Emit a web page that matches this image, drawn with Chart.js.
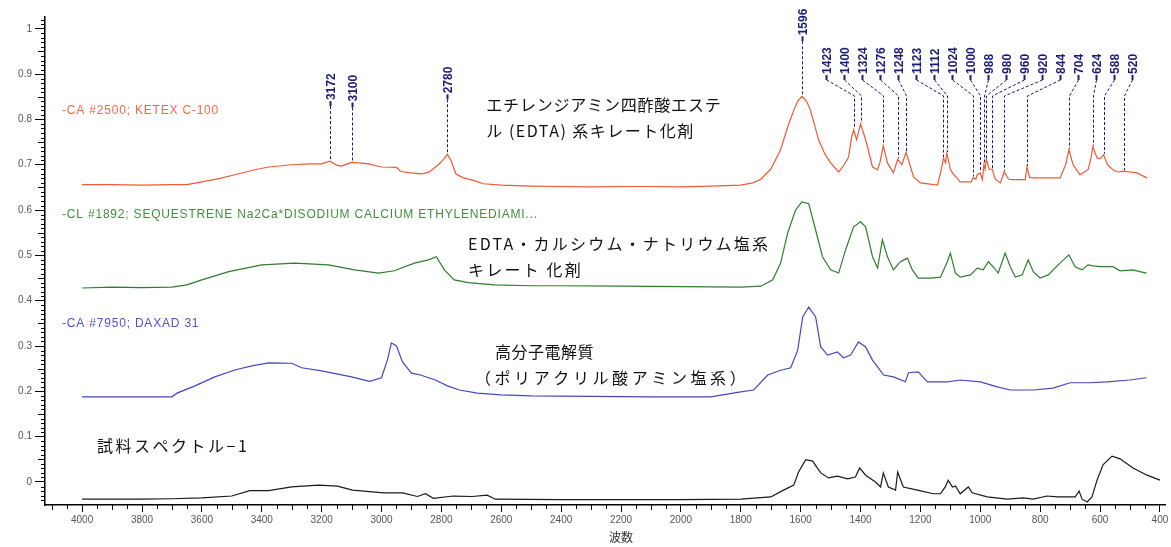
<!DOCTYPE html>
<html>
<head>
<meta charset="utf-8">
<script src="https://cdn.jsdelivr.net/npm/chart.js@4/dist/chart.umd.min.js"></script>
<style>
  html, body { margin: 0; padding: 0; background: #fff; }
  canvas { display: block; }
</style>
</head>
<body>
<canvas id="ir" width="1171" height="547"></canvas>
<script>
// ---- IR spectra: wavenumber (cm-1) and absorbance ----
const redWn  = [4000,3900,3800,3700,3650,3600,3540,3490,3423,3377,3300,3240,3200,3172,3150,3135,3100,3077,3043,3000,2950,2935,2900,2867,2843,2810,2795,2780,2768,2752,2727,2690,2660,2600,2500,2400,2300,2200,2100,2000,1900,1800,1760,1733,1700,1667,1640,1623,1610,1596,1580,1567,1540,1520,1500,1473,1455,1440,1430,1423,1413,1400,1390,1380,1360,1343,1335,1324,1310,1290,1276,1262,1248,1235,1223,1200,1143,1130,1123,1116,1112,1100,1093,1067,1030,1024,1015,1010,1000,993,988,984,980,970,960,950,933,920,905,890,850,844,835,823,780,733,715,704,690,667,640,630,624,610,600,588,575,557,540,520,500,477,443];
const redAbs = [0.656,0.656,0.655,0.656,0.656,0.662,0.670,0.678,0.689,0.695,0.700,0.702,0.702,0.708,0.699,0.697,0.705,0.704,0.702,0.695,0.694,0.685,0.682,0.680,0.683,0.700,0.710,0.723,0.710,0.680,0.671,0.665,0.658,0.655,0.653,0.652,0.651,0.652,0.652,0.651,0.653,0.655,0.660,0.668,0.690,0.733,0.790,0.820,0.840,0.851,0.840,0.820,0.755,0.725,0.704,0.684,0.700,0.717,0.760,0.777,0.755,0.790,0.770,0.748,0.695,0.689,0.705,0.742,0.704,0.682,0.712,0.700,0.727,0.700,0.673,0.660,0.655,0.690,0.715,0.705,0.726,0.690,0.682,0.662,0.662,0.672,0.668,0.678,0.682,0.667,0.700,0.690,0.712,0.690,0.690,0.668,0.660,0.684,0.668,0.667,0.667,0.695,0.672,0.671,0.671,0.671,0.700,0.733,0.700,0.678,0.689,0.715,0.740,0.715,0.713,0.722,0.700,0.689,0.684,0.686,0.684,0.682,0.671];

const greenWn  = [4000,3900,3800,3700,3650,3600,3510,3400,3290,3177,3090,3010,2957,2890,2843,2817,2790,2757,2710,2623,2500,2400,2200,2000,1800,1733,1693,1667,1643,1617,1596,1573,1550,1527,1500,1473,1450,1423,1400,1383,1360,1343,1327,1310,1290,1267,1243,1227,1207,1167,1133,1110,1100,1083,1067,1033,1010,990,973,957,940,917,900,883,860,840,823,800,773,740,704,683,660,640,623,600,557,533,490,467,445];
const greenAbs = [0.428,0.430,0.429,0.430,0.435,0.446,0.464,0.479,0.483,0.479,0.468,0.461,0.466,0.483,0.490,0.497,0.468,0.446,0.440,0.435,0.433,0.433,0.432,0.431,0.430,0.432,0.446,0.483,0.550,0.600,0.618,0.614,0.556,0.497,0.468,0.461,0.512,0.563,0.574,0.563,0.497,0.472,0.534,0.497,0.468,0.486,0.494,0.468,0.450,0.450,0.452,0.486,0.505,0.461,0.452,0.457,0.472,0.468,0.486,0.475,0.461,0.505,0.475,0.452,0.457,0.490,0.464,0.450,0.457,0.479,0.501,0.475,0.468,0.479,0.477,0.475,0.475,0.466,0.468,0.464,0.461];

const blueWn  = [4000,3850,3700,3683,3623,3557,3490,3433,3377,3300,3267,3200,3100,3040,3000,2980,2967,2950,2930,2900,2870,2820,2780,2740,2680,2600,2500,2300,2100,1900,1800,1757,1710,1670,1633,1610,1593,1573,1550,1533,1510,1477,1457,1433,1407,1383,1360,1343,1323,1290,1250,1240,1207,1177,1110,1067,1000,943,900,823,757,700,633,577,500,445];
const blueAbs = [0.188,0.188,0.188,0.196,0.212,0.232,0.247,0.256,0.263,0.262,0.252,0.245,0.232,0.222,0.230,0.270,0.307,0.300,0.265,0.240,0.236,0.225,0.212,0.203,0.196,0.192,0.190,0.189,0.188,0.188,0.199,0.203,0.236,0.246,0.252,0.291,0.364,0.386,0.364,0.298,0.280,0.287,0.274,0.280,0.309,0.298,0.269,0.254,0.236,0.232,0.221,0.241,0.243,0.221,0.221,0.225,0.221,0.210,0.203,0.203,0.207,0.219,0.219,0.221,0.225,0.230];

const blackWn  = [4000,3800,3700,3600,3500,3440,3377,3300,3210,3147,3097,2993,2930,2880,2853,2827,2760,2697,2647,2620,2400,2000,1800,1700,1657,1623,1607,1583,1560,1533,1507,1477,1443,1417,1403,1383,1350,1333,1324,1307,1283,1276,1257,1210,1157,1133,1117,1107,1093,1083,1067,1040,1027,977,910,857,823,777,743,683,670,660,643,627,610,590,560,533,490,443,400];
const blackAbs = [-0.038,-0.038,-0.037,-0.035,-0.031,-0.019,-0.019,-0.011,-0.007,-0.009,-0.018,-0.024,-0.024,-0.032,-0.026,-0.036,-0.031,-0.032,-0.029,-0.038,-0.039,-0.039,-0.038,-0.033,-0.018,-0.007,0.022,0.049,0.046,0.020,0.009,0.013,0.007,0.011,0.031,0.015,0.000,-0.011,0.020,-0.011,-0.018,0.022,-0.011,-0.018,-0.026,-0.026,-0.011,0.004,-0.011,-0.009,-0.026,-0.011,-0.024,-0.033,-0.038,-0.035,-0.038,-0.031,-0.033,-0.033,-0.020,-0.038,-0.044,-0.033,0.004,0.038,0.057,0.051,0.031,0.015,0.004];

// peak positions picked on the top spectrum
const peakWn = [3172,3100,2780,1596,1423,1400,1324,1276,1248,1123,1112,1024,1000,988,980,960,920,844,704,624,588,520];

// axis ticks and labels
const xMajorTicks = [4000,3800,3600,3400,3200,3000,2800,2600,2400,2200,2000,1800,1600,1400,1200,1000,800,600,400];
const yMajorTicks = [0,0.1,0.2,0.3,0.4,0.5,0.6,0.7,0.8,0.9,1];

const seriesNames = [
  '-CA #2500; KETEX C-100',
  '-CL #1892; SEQUESTRENE Na2Ca*DISODIUM CALCIUM ETHYLENEDIAMI...',
  '-CA #7950; DAXAD 31'
];
const xTitle = '波数';

const noteTexts = [
  'エチレンジアミン四酢酸エステ',
  'ル (EDTA) 系キレート化剤',
  'EDTA・カルシウム・ナトリウム塩系',
  'キレート 化剤',
  '高分子電解質',
  '（ポリアクリル酸アミン塩系）',
  '試料スペクトル−1'
];

// ---- layout and styling ----
const seriesColors = ['#ee5a36', '#2f7d2f', '#4646c4', '#1a1a1a'];
const seriesTextColors = ['#f06a48', '#3f8f3f', '#5050cc'];
const nameAnchorY = [0.82, 0.59, 0.35];          // absorbance level of each series name
const nameAnchorX = 4067;                          // wavenumber where names start
// anchor (wavenumber, absorbance) and letter spacing for each note line
const noteLayout = [
  { x: 2650, y: 0.832, ls: 0.8 },
  { x: 2650, y: 0.775, ls: 1.5 },
  { x: 2711, y: 0.525, ls: 2.2 },
  { x: 2711, y: 0.468, ls: 2.2 },
  { x: 2621, y: 0.288, ls: 0.5 },
  { x: 2688, y: 0.230, ls: 3.6 },
  { x: 3950, y: 0.080, ls: 2.5 }
];

function pairs(xs, ys) { return xs.map((x, i) => ({ x: x, y: ys[i] })); }
function absAt(xs, ys, wn) {
  for (let i = 0; i < xs.length - 1; i++) {
    const a = xs[i], b = xs[i + 1];
    if (wn <= a && wn >= b) {
      const t = (a === b) ? 0 : (a - wn) / (a - b);
      return ys[i] + t * (ys[i + 1] - ys[i]);
    }
  }
  return ys[ys.length - 1];
}

const FONT = '"Liberation Sans", Arial, sans-serif';
const JFONT = '"Noto Sans CJK JP", "Noto Sans", sans-serif';

// minor ticks on both axes
const minorTicks = {
  id: 'minorTicks',
  afterDraw(chart) {
    const ctx = chart.ctx, xs = chart.scales.x, ys = chart.scales.y;
    const axisY = chart.chartArea.bottom, axisX = chart.chartArea.left;
    ctx.save();
    ctx.strokeStyle = '#000';
    ctx.lineWidth = 1;
    for (let v = 400; v <= 4100; v += 50) {
      if (v % 200 === 0 && v <= 4000) continue;
      const p = Math.round(xs.getPixelForValue(v)) + 0.5;
      if (p < chart.chartArea.left || p > chart.chartArea.right) continue;
      const len = (v % 100 === 0) ? 5 : 4;
      ctx.beginPath(); ctx.moveTo(p, axisY); ctx.lineTo(p, axisY + len); ctx.stroke();
    }
    for (let k = -4; k <= 102; k++) {
      if (k % 10 === 0) continue;
      const p = Math.round(ys.getPixelForValue(k / 100)) + 0.5;
      if (p < chart.chartArea.top || p > chart.chartArea.bottom) continue;
      const len = (k % 5 === 0) ? 7 : 4;
      ctx.beginPath(); ctx.moveTo(axisX, p); ctx.lineTo(axisX - len, p); ctx.stroke();
    }
    ctx.restore();
  }
};

// series names, notes, peak labels, axis title
const annotate = {
  id: 'annotate',
  afterDatasetsDraw(chart) {
    const ctx = chart.ctx, xs = chart.scales.x, ys = chart.scales.y;
    ctx.save();

    // series names
    ctx.font = '12px ' + FONT;
    ctx.letterSpacing = '0.8px';
    ctx.textBaseline = 'middle';
    ctx.textAlign = 'left';
    for (let i = 0; i < seriesNames.length; i++) {
      ctx.fillStyle = seriesTextColors[i];
      ctx.fillText(seriesNames[i], xs.getPixelForValue(nameAnchorX), ys.getPixelForValue(nameAnchorY[i]));
    }

    // notes
    ctx.fillStyle = '#111';
    ctx.font = '16px ' + JFONT;
    noteTexts.forEach((t, i) => {
      const L = noteLayout[i];
      ctx.letterSpacing = L.ls + 'px';
      ctx.fillText(t, xs.getPixelForValue(L.x), ys.getPixelForValue(L.y));
    });
    ctx.letterSpacing = '0px';

    // peak labels, spread apart where they would collide
    const items = peakWn.map(wn => ({
      wn: wn,
      px: xs.getPixelForValue(wn),
      py: ys.getPixelForValue(absAt(redWn, redAbs, wn))
    })).sort((a, b) => a.px - b.px);
    const gap = 18;
    const groups = items.map(it => ({ members: [it] }));
    const place = g => {
      const c = g.members.reduce((s, m) => s + m.px, 0) / g.members.length;
      g.left = c - (g.members.length - 1) / 2 * gap;
      g.right = c + (g.members.length - 1) / 2 * gap;
    };
    groups.forEach(place);
    let merged = true;
    while (merged) {
      merged = false;
      for (let i = 0; i < groups.length - 1; i++) {
        if (groups[i + 1].left - groups[i].right < gap) {
          groups[i].members = groups[i].members.concat(groups[i + 1].members);
          groups.splice(i + 1, 1);
          place(groups[i]);
          merged = true;
          break;
        }
      }
    }
    ctx.font = 'bold 12px ' + FONT;
    ctx.fillStyle = '#1b1b78';
    ctx.strokeStyle = '#1b1b78';
    groups.forEach(g => {
      const single = g.members.length === 1;
      const minPy = Math.min.apply(null, g.members.map(m => m.py));
      const base = single ? g.members[0].py - 57 : minPy - 46;
      g.members.forEach((m, j) => {
        const lx = Math.round(g.left + j * gap) + 0.5;
        const px = Math.round(m.px) + 0.5;
        // label text, reading upward
        ctx.save();
        ctx.translate(lx + 4.5, base - 4);
        ctx.rotate(-Math.PI / 2);
        ctx.textAlign = 'left';
        ctx.textBaseline = 'alphabetic';
        ctx.fillText(String(m.wn), 0, 0);
        ctx.restore();
        // stub
        ctx.lineWidth = 2;
        ctx.setLineDash([]);
        ctx.beginPath(); ctx.moveTo(lx, base - 3); ctx.lineTo(lx, base + 2); ctx.stroke();
        // leader down to the peak
        ctx.lineWidth = 1;
        ctx.setLineDash([3, 2]);
        ctx.beginPath();
        if (single) {
          ctx.moveTo(lx, base + 2); ctx.lineTo(px, m.py - 1);
        } else {
          ctx.moveTo(lx, base + 2); ctx.lineTo(px, base + 18); ctx.lineTo(px, m.py - 1);
        }
        ctx.stroke();
      });
    });
    ctx.setLineDash([]);

    // axis title
    ctx.fillStyle = '#333';
    ctx.font = '12px ' + JFONT;
    ctx.textAlign = 'center';
    ctx.textBaseline = 'middle';
    ctx.fillText(xTitle, xs.getPixelForValue(2200), 537);
    ctx.restore();
  }
};

const mkSet = (xs, ys, i) => ({
  data: pairs(xs, ys),
  borderColor: seriesColors[i],
  borderWidth: 1.2,
  pointRadius: 0,
  tension: 0,
  fill: false
});

new Chart(document.getElementById('ir'), {
  type: 'line',
  data: {
    datasets: [
      mkSet(redWn, redAbs, 0),
      mkSet(greenWn, greenAbs, 1),
      mkSet(blueWn, blueAbs, 2),
      mkSet(blackWn, blackAbs, 3)
    ]
  },
  options: {
    responsive: false,
    animation: false,
    events: [],
    layout: { padding: { top: 17, right: 6, left: 0, bottom: 0 } },
    plugins: { legend: { display: false }, tooltip: { enabled: false } },
    scales: {
      x: {
        type: 'linear',
        reverse: true,
        min: 383,
        max: 4124,
        afterFit: s => { s.height = 42; },
        afterBuildTicks: s => { s.ticks = xMajorTicks.map(v => ({ value: v })); },
        ticks: {
          color: '#555',
          font: { family: FONT, size: 10 },
          padding: 2,
          maxRotation: 0,
          autoSkip: false,
          callback: v => String(v)
        },
        grid: { drawOnChartArea: false, drawTicks: true, tickLength: 7, tickColor: '#000', tickWidth: 1 },
        border: { display: true, color: '#000', width: 1.5 }
      },
      y: {
        type: 'linear',
        min: -0.0508,
        max: 1.026,
        afterFit: s => { s.width = 45; },
        afterBuildTicks: s => { s.ticks = yMajorTicks.map(v => ({ value: v })); },
        ticks: {
          color: '#555',
          font: { family: FONT, size: 10 },
          padding: 3,
          autoSkip: false,
          callback: v => String(+v.toFixed(1))
        },
        grid: { drawOnChartArea: false, drawTicks: true, tickLength: 10, tickColor: '#000', tickWidth: 1 },
        border: { display: true, color: '#000', width: 1.5 }
      }
    }
  },
  plugins: [minorTicks, annotate]
});
</script>
</body>
</html>
